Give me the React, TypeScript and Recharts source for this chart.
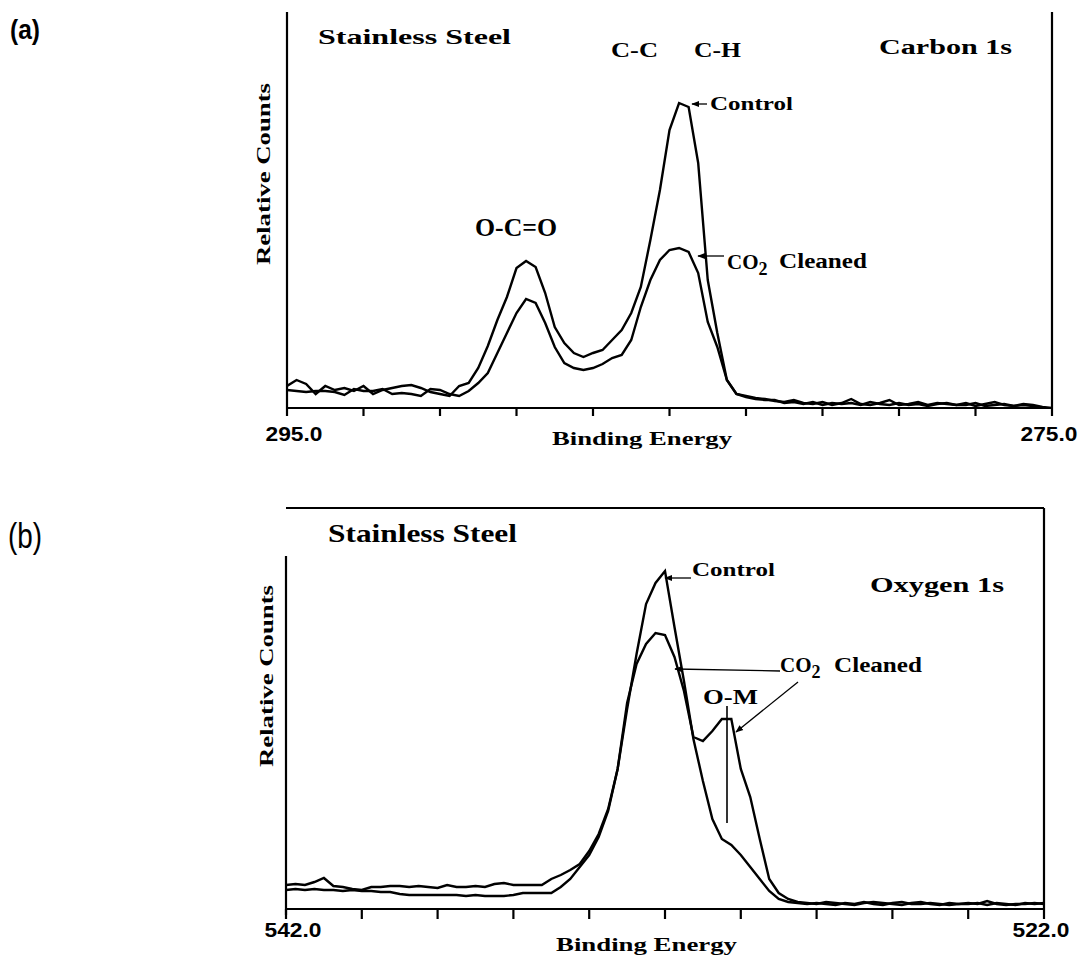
import { LineChart, Line, XAxis, YAxis, ReferenceLine } from "recharts";

// (a) Carbon 1s, binding energy in eV, counts in arbitrary units
const energyA = [
  295, 294.75, 294.5, 294.25, 294, 293.75, 293.5, 293.25, 293, 292.75, 292.5, 292.25, 292, 291.75,
  291.5, 291.25, 291, 290.75, 290.5, 290.25, 290, 289.75, 289.5, 289.25, 289, 288.75, 288.5, 288.25,
  288, 287.75, 287.5, 287.25, 287, 286.75, 286.5, 286.25, 286, 285.75, 285.5, 285.25, 285, 284.75,
  284.5, 284.25, 284, 283.75, 283.5, 283.25, 283, 282.75, 282.5, 282.25, 282, 281.75, 281.5, 281.25,
  281, 280.75, 280.5, 280.25, 280, 279.75, 279.5, 279.25, 279, 278.75, 278.5, 278.25, 278, 277.75,
  277.5, 277.25, 277, 276.75, 276.5, 276.25, 276, 275.75, 275.5, 275.25, 275,
];
const controlA = [
  22, 28, 24, 14, 22, 18, 20, 17, 22, 14, 18, 20, 22, 23, 20, 16, 14, 12, 22, 25, 40, 62, 88, 111,
  140, 147, 141, 115, 81, 65, 55, 51, 55, 58, 68, 78, 95, 121, 168, 218, 278, 305, 301, 245, 128, 75,
  28, 14, 12, 10, 9, 7, 6, 8, 5, 4, 6, 3, 5, 9, 4, 3, 5, 8, 3, 4, 6, 3, 5, 4, 3, 5, 2, 4, 6, 3, 2, 4,
  3, 1, 0,
];
const cleanedA = [
  18, 17, 16, 17, 17, 16, 13, 19, 17, 17, 19, 14, 15, 14, 12, 19, 18, 14, 12, 17, 25, 35, 55, 75, 95,
  109, 105, 85, 61, 45, 40, 38, 40, 44, 50, 53, 68, 101, 128, 148, 158, 160, 156, 135, 86, 61, 28, 14,
  11, 9, 8, 8, 5, 6, 4, 6, 3, 5, 4, 5, 3, 6, 4, 3, 5, 3, 4, 2, 4, 5, 3, 3, 5, 2, 3, 4, 2, 3, 2, 0, -1,
];
const ticksA = [295, 293, 291, 289, 287, 285, 283, 281, 279, 277, 275];

// (b) Oxygen 1s
const energyB = [
  542, 541.75, 541.5, 541.25, 541, 540.75, 540.5, 540.25, 540, 539.75, 539.5, 539.25, 539, 538.75,
  538.5, 538.25, 538, 537.75, 537.5, 537.25, 537, 536.75, 536.5, 536.25, 536, 535.75, 535.5, 535.25,
  535, 534.75, 534.5, 534.25, 534, 533.75, 533.5, 533.25, 533, 532.75, 532.5, 532.25, 532, 531.75,
  531.5, 531.25, 531, 530.75, 530.5, 530.25, 530, 529.75, 529.5, 529.25, 529, 528.75, 528.5, 528.25,
  528, 527.75, 527.5, 527.25, 527, 526.75, 526.5, 526.25, 526, 525.75, 525.5, 525.25, 525, 524.75,
  524.5, 524.25, 524, 523.75, 523.5, 523.25, 523, 522.75, 522.5, 522.25, 522,
];
const controlB = [
  19, 20, 19, 20, 19, 19, 18, 19, 18, 18, 17, 17, 15, 14, 14, 14, 14, 14, 14, 13, 14, 13, 13, 13, 14,
  16, 16, 16, 16, 22, 30, 42, 54, 72, 98, 140, 200, 255, 305, 326, 338, 282, 228, 170, 128, 90, 70, 64,
  54, 42, 30, 18, 10, 7, 6, 5, 6, 5, 4, 6, 5, 7, 5, 4, 6, 7, 5, 5, 6, 5, 4, 5, 6, 5, 8, 5, 4, 5, 5, 6,
  5,
];
const cleanedB = [
  24, 25, 24, 27, 31, 23, 22, 20, 19, 22, 22, 23, 23, 22, 23, 22, 21, 24, 22, 22, 23, 22, 25, 26, 24,
  24, 24, 24, 30, 34, 39, 45, 58, 75, 100, 140, 206, 245, 265, 276, 274, 252, 218, 172, 168, 178, 190,
  190, 140, 112, 70, 30, 16, 10, 7, 6, 5, 7, 6, 5, 4, 6, 7, 6, 5, 4, 6, 7, 5, 4, 6, 5, 5, 6, 4, 6, 5,
  4, 6, 5, 6,
];
const ticksB = [542, 540, 538, 536, 534, 532, 530, 528, 526, 524, 522];

const rowsA = energyA.map((e, i) => ({ e, control: controlA[i], cleaned: cleanedA[i] }));
const rowsB = energyB.map((e, i) => ({ e, control: controlB[i], cleaned: cleanedB[i] }));

const INK = "#000";
const SERIF = "'Liberation Serif', 'Times New Roman', serif";
const SANS = "'Liberation Sans', Arial, sans-serif";
const axisStyle = { stroke: INK, strokeWidth: 2.2 };

// only the two end ticks carry a label
function EndTick(props: any) {
  const { x, y, payload, first, last, baseline } = props;
  const v = payload.value;
  if (v !== first && v !== last) return <g />;
  return (
    <text
      x={x + (v === first ? 7 : -3)}
      y={baseline ?? y + 20}
      textAnchor="middle"
      fontFamily={SANS}
      fontWeight="bold"
      fontSize={21}
      fill={INK}
      textLength={57}
      lengthAdjust="spacingAndGlyphs"
    >
      {v.toFixed(1)}
    </text>
  );
}

function Label({ x, y, size, len, children, anchor }: any) {
  return (
    <text
      x={x}
      y={y}
      fontFamily={SERIF}
      fontWeight="bold"
      fontSize={size}
      fill={INK}
      textAnchor={anchor ?? "start"}
      textLength={len}
      lengthAdjust="spacingAndGlyphs"
    >
      {children}
    </text>
  );
}

function CO2({ x, y }: { x: number; y: number }) {
  return (
    <text x={x} y={y} fontFamily={SERIF} fontWeight="bold" fontSize={21} fill={INK}>
      CO
      <tspan dy={6} fontSize={18}>
        2
      </tspan>
    </text>
  );
}

function CarbonPanel() {
  return (
    <LineChart width={1081} height={470} data={rowsA} margin={{ top: 12, right: 28, bottom: 61, left: 286 }}>
      <XAxis
        dataKey="e"
        type="number"
        domain={[275, 295]}
        reversed
        ticks={ticksA}
        interval={0}
        height={1}
        tickSize={8}
        tickLine={axisStyle}
        axisLine={axisStyle}
        allowDataOverflow
        tick={<EndTick first={295} last={275} baseline={441} />}
      />
      <YAxis domain={[0, 396]} width={1} tick={false} tickLine={false} axisLine={axisStyle} allowDataOverflow />
      <YAxis
        yAxisId="r"
        orientation="right"
        domain={[0, 396]}
        width={1}
        tick={false}
        tickLine={false}
        axisLine={axisStyle}
      />
      <Line type="linear" dataKey="control" stroke={INK} strokeWidth={2.4} dot={false} isAnimationActive={false} />
      <Line type="linear" dataKey="cleaned" stroke={INK} strokeWidth={2.4} dot={false} isAnimationActive={false} />
    </LineChart>
  );
}

function OxygenPanel() {
  return (
    <LineChart width={1081} height={487} data={rowsB} margin={{ top: 37, right: 36, bottom: 47, left: 285 }}>
      <XAxis
        dataKey="e"
        type="number"
        domain={[522, 542]}
        reversed
        ticks={ticksB}
        interval={0}
        height={1}
        tickSize={10}
        tickLine={axisStyle}
        axisLine={axisStyle}
        allowDataOverflow
        tick={<EndTick first={542} last={522} baseline={467} />}
      />
      <XAxis
        xAxisId="top"
        orientation="top"
        dataKey="e"
        type="number"
        domain={[522, 542]}
        reversed
        height={1}
        tick={false}
        tickLine={false}
        axisLine={axisStyle}
      />
      <YAxis domain={[0, 401]} width={1} tick={false} tickLine={false} axisLine={false} allowDataOverflow />
      <YAxis
        yAxisId="r"
        orientation="right"
        domain={[0, 401]}
        width={1}
        tick={false}
        tickLine={false}
        axisLine={axisStyle}
      />
      <ReferenceLine
        segment={[
          { x: 542, y: -6 },
          { x: 542, y: 353 },
        ]}
        stroke={INK}
        strokeWidth={2.2}
        ifOverflow="visible"
      />
      <Line type="linear" dataKey="control" stroke={INK} strokeWidth={2.4} dot={false} isAnimationActive={false} />
      <Line type="linear" dataKey="cleaned" stroke={INK} strokeWidth={2.4} dot={false} isAnimationActive={false} />
    </LineChart>
  );
}

export default function App() {
  return (
    <div style={{ position: "absolute", left: 0, top: 0, width: 1081, height: 957, background: "#fff" }}>
      <div style={{ position: "absolute", left: 0, top: 0 }}>
        <CarbonPanel />
      </div>
      <div style={{ position: "absolute", left: 0, top: 470 }}>
        <OxygenPanel />
      </div>

      <svg
        width={1081}
        height={957}
        style={{ position: "absolute", left: 0, top: 0, pointerEvents: "none" }}
      >
        <defs>
          <marker id="tip" viewBox="0 0 10 10" refX="9" refY="5" markerWidth="6" markerHeight="6" orient="auto">
            <path d="M0,1 L10,5 L0,9 z" fill={INK} />
          </marker>
        </defs>

        {/* panel letters */}
        <text
          x={10}
          y={39}
          fontFamily={SANS}
          fontWeight="bold"
          fontSize={28}
          fill={INK}
          textLength={30}
          lengthAdjust="spacingAndGlyphs"
        >
          (a)
        </text>
        <text
          x={8}
          y={548}
          fontFamily={SANS}
          fontSize={35}
          fill={INK}
          textLength={34}
          lengthAdjust="spacingAndGlyphs"
        >
          (b)
        </text>

        {/* (a) labels */}
        <Label x={318} y={44} size={21} len={193}>Stainless Steel</Label>
        <Label x={611} y={57} size={20} len={47}>C-C</Label>
        <Label x={694} y={57} size={20} len={47}>C-H</Label>
        <Label x={879} y={54} size={20} len={133}>Carbon 1s</Label>
        <Label x={475} y={236} size={25} len={82}>O-C=O</Label>
        <Label x={710} y={110} size={18} len={83}>Control</Label>
        <line x1={707} y1={104} x2={692} y2={104} stroke={INK} strokeWidth={1.3} markerEnd="url(#tip)" />
        <CO2 x={727} y={269} />
        <Label x={779} y={268} size={20} len={88}>Cleaned</Label>
        <line x1={724} y1={256} x2={698} y2={256} stroke={INK} strokeWidth={1.3} markerEnd="url(#tip)" />
        <g transform="translate(270,174) rotate(-90)">
          <Label x={0} y={0} size={18} len={182} anchor="middle">Relative Counts</Label>
        </g>
        <Label x={552} y={445} size={19} len={180}>Binding Energy</Label>

        {/* (b) labels */}
        <Label x={328} y={542} size={25} len={189}>Stainless   Steel</Label>
        <Label x={692} y={576} size={18} len={83}>Control</Label>
        <line x1={691} y1={578} x2={665} y2={578} stroke={INK} strokeWidth={1.3} markerEnd="url(#tip)" />
        <Label x={870} y={592} size={21} len={134}>Oxygen 1s</Label>
        <CO2 x={780} y={672} />
        <Label x={834} y={672} size={20} len={88}>Cleaned</Label>
        <line x1={780} y1={671} x2={675} y2={669} stroke={INK} strokeWidth={1.3} markerEnd="url(#tip)" />
        <line x1={798} y1={682} x2={736} y2={732} stroke={INK} strokeWidth={1.3} markerEnd="url(#tip)" />
        <Label x={703} y={704} size={22} len={55}>O-M</Label>
        <line x1={727} y1={706} x2={727} y2={823} stroke={INK} strokeWidth={1.6} />
        <g transform="translate(273,676) rotate(-90)">
          <Label x={0} y={0} size={18} len={182} anchor="middle">Relative Counts</Label>
        </g>
        <Label x={556} y={951} size={19} len={181}>Binding Energy</Label>
      </svg>
    </div>
  );
}
